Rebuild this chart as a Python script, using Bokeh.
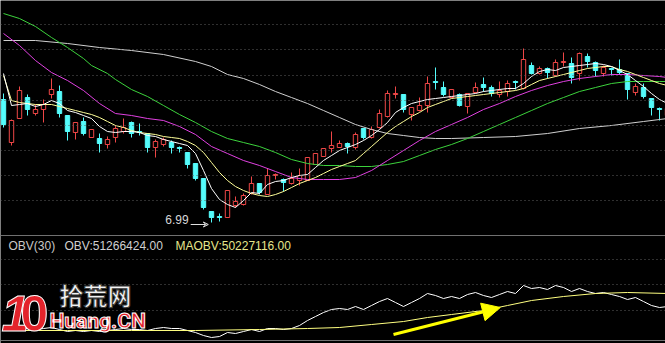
from bokeh.plotting import figure
from bokeh.models import ColumnDataSource, Range1d, Span, Label, Arrow, VeeHead, NormalHead
from bokeh.embed import file_html
from bokeh.resources import INLINE

# ---------------- price data (daily candles) ----------------
open_ = [8.22, 7.79, 8.03, 8.24, 8.08, 8.12, 8.27, 8.30, 8.06, 7.89,
         8.00, 7.84, 7.83, 7.77, 7.84, 7.90, 7.99, 7.90, 7.88, 7.74,
         7.77, 7.79, 7.74, 7.69, 7.58, 7.43, 7.10, 7.05, 7.04, 7.16,
         7.17, 7.28, 7.38, 7.27, 7.46, 7.42, 7.38, 7.41, 7.41, 7.57,
         7.65, 7.73, 7.74, 7.78, 7.74, 7.93, 7.84, 7.94, 8.05, 8.27,
         8.27, 8.07, 8.11, 8.16, 8.40, 8.34, 8.24, 8.27, 8.15, 8.29,
         8.37, 8.34, 8.27, 8.30, 8.40, 8.33, 8.56, 8.48, 8.53, 8.46,
         8.59, 8.58, 8.48, 8.65, 8.59, 8.48, 8.53, 8.52, 8.48, 8.29,
         8.34, 8.23, 8.13, 8.06]
close = [7.97, 8.01, 8.31, 8.12, 8.12, 8.17, 8.32, 8.08, 7.90, 7.99,
         7.88, 7.92, 7.78, 7.82, 7.93, 7.94, 7.88, 7.89, 7.74, 7.80,
         7.82, 7.74, 7.73, 7.57, 7.43, 7.14, 7.04, 7.04, 7.31, 7.20,
         7.26, 7.38, 7.29, 7.46, 7.47, 7.39, 7.43, 7.46, 7.64, 7.68,
         7.73, 7.76, 7.78, 7.75, 7.87, 7.84, 7.92, 8.08, 8.28, 8.28,
         8.12, 8.14, 8.16, 8.38, 8.39, 8.27, 8.32, 8.16, 8.28, 8.34,
         8.34, 8.28, 8.31, 8.38, 8.39, 8.62, 8.48, 8.53, 8.49, 8.59,
         8.60, 8.44, 8.68, 8.60, 8.51, 8.54, 8.52, 8.49, 8.32, 8.35,
         8.25, 8.14, 8.12, 8.13]
high = [8.28, 8.02, 8.35, 8.27, 8.17, 8.22, 8.43, 8.36, 8.06, 7.99,
        8.04, 7.92, 7.88, 7.85, 7.96, 8.03, 8.00, 7.98, 7.88, 7.82,
        7.84, 7.81, 7.75, 7.69, 7.58, 7.43, 7.10, 7.08, 7.31, 7.25,
        7.28, 7.45, 7.38, 7.53, 7.48, 7.43, 7.49, 7.53, 7.64, 7.68,
        7.73, 7.90, 7.81, 7.79, 7.89, 7.93, 7.95, 8.12, 8.31, 8.35,
        8.27, 8.14, 8.24, 8.45, 8.54, 8.40, 8.32, 8.28, 8.28, 8.39,
        8.44, 8.36, 8.40, 8.41, 8.41, 8.73, 8.59, 8.55, 8.54, 8.62,
        8.69, 8.64, 8.69, 8.68, 8.60, 8.56, 8.54, 8.62, 8.48, 8.38,
        8.38, 8.23, 8.14, 8.16]
low = [7.94, 7.76, 8.03, 8.06, 8.06, 7.99, 8.23, 8.04, 7.81, 7.82,
       7.86, 7.84, 7.69, 7.73, 7.79, 7.88, 7.84, 7.86, 7.69, 7.64,
       7.75, 7.68, 7.69, 7.53, 7.41, 7.12, 6.99, 7.00, 7.04, 7.14,
       7.16, 7.27, 7.27, 7.27, 7.42, 7.30, 7.37, 7.36, 7.41, 7.57,
       7.65, 7.69, 7.74, 7.68, 7.72, 7.82, 7.83, 7.93, 8.04, 8.23,
       8.09, 8.01, 8.10, 8.09, 8.32, 8.25, 8.24, 8.15, 8.08, 8.28,
       8.30, 8.25, 8.24, 8.25, 8.32, 8.32, 8.47, 8.47, 8.43, 8.45,
       8.55, 8.38, 8.41, 8.54, 8.45, 8.45, 8.46, 8.47, 8.22, 8.26,
       8.23, 8.06, 8.01, 8.03]

# ---------------- moving averages ----------------
ma5 = [8.48, 8.16, 8.17, 8.18, 8.15, 8.17, 8.21, 8.18, 8.11, 8.09,
       8.06, 8.03, 7.95, 7.90, 7.89, 7.90, 7.90, 7.89, 7.86, 7.85,
       7.82, 7.80, 7.78, 7.76, 7.68, 7.51, 7.33, 7.22, 7.17, 7.14,
       7.21, 7.29, 7.28, 7.37, 7.40, 7.41, 7.44, 7.46, 7.47, 7.54,
       7.61, 7.66, 7.71, 7.74, 7.77, 7.81, 7.86, 7.92, 7.99, 8.09,
       8.14, 8.18, 8.20, 8.22, 8.23, 8.24, 8.25, 8.26, 8.27, 8.28,
       8.30, 8.31, 8.32, 8.33, 8.33, 8.38, 8.45, 8.50, 8.52, 8.51,
       8.54, 8.55, 8.56, 8.57, 8.58, 8.57, 8.55, 8.51, 8.47, 8.41,
       8.35, 8.28, 8.22, 8.18]
ma10 = [8.46, 8.21, 8.19, 8.18, 8.17, 8.17, 8.17, 8.15, 8.13, 8.11,
        8.09, 8.07, 8.04, 8.00, 7.96, 7.94, 7.91, 7.89, 7.88, 7.87,
        7.85, 7.84, 7.83, 7.80, 7.76, 7.69, 7.59, 7.49, 7.41, 7.35,
        7.31, 7.28, 7.26, 7.25, 7.27, 7.30, 7.34, 7.38, 7.41, 7.44,
        7.48, 7.52, 7.55, 7.58, 7.61, 7.68, 7.75, 7.82, 7.89, 7.95,
        8.00, 8.05, 8.09, 8.14, 8.17, 8.20, 8.23, 8.24, 8.25, 8.26,
        8.27, 8.28, 8.29, 8.30, 8.31, 8.33, 8.37, 8.41, 8.43, 8.45,
        8.47, 8.49, 8.51, 8.53, 8.54, 8.55, 8.55, 8.52, 8.50, 8.47,
        8.44, 8.41, 8.38, 8.36]
ma20_x = [0, 2, 4, 6, 8, 10, 12, 14, 16, 18, 20, 22, 24, 26, 28, 30, 32, 34, 36, 38,
          40, 42, 44, 46, 48, 50, 52, 54, 56, 58, 60, 62, 64, 66, 68, 70, 72, 74, 76, 78,
          80, 82, 83]
ma20 = [8.88, 8.76, 8.61, 8.49, 8.41, 8.31, 8.18, 8.08, 8.06, 8.03, 8.01, 7.95, 7.87, 7.75,
        7.68, 7.61, 7.56, 7.50, 7.44, 7.42, 7.42, 7.42, 7.44, 7.51, 7.61, 7.71, 7.81, 7.90,
        7.97, 8.04, 8.12, 8.18, 8.25, 8.31, 8.36, 8.40, 8.43, 8.45, 8.47, 8.47, 8.46, 8.45, 8.44]
ma30_x = [0, 2, 4, 6, 8, 10, 11, 13, 14, 16, 18, 20, 22, 24, 26, 28, 30, 32, 34, 36, 38,
          40, 42, 44, 46, 48, 50, 52, 54, 56, 58, 60, 62, 64, 66, 68, 70, 72, 74, 76, 78,
          80, 82, 83]
ma30 = [9.08, 9.03, 8.95, 8.84, 8.74, 8.63, 8.56, 8.48, 8.42, 8.32, 8.25, 8.16, 8.07, 7.99,
        7.90, 7.83, 7.79, 7.75, 7.69, 7.62, 7.58, 7.56, 7.56, 7.55, 7.55, 7.57, 7.60, 7.66,
        7.72, 7.77, 7.83, 7.90, 7.97, 8.04, 8.11, 8.18, 8.24, 8.30, 8.34, 8.38, 8.40, 8.40,
        8.40, 8.40]
ma60_x = [0, 4, 8, 12, 16, 20, 24, 26, 28, 30, 32, 34, 36, 38, 40, 42, 44, 46, 48, 50,
          52, 54, 56, 60, 64, 68, 72, 76, 80, 83]
ma60 = [8.81, 8.81, 8.78, 8.74, 8.71, 8.67, 8.60, 8.55, 8.47, 8.43, 8.37, 8.30, 8.24, 8.18,
        8.11, 8.04, 7.97, 7.92, 7.88, 7.86, 7.84, 7.83, 7.83, 7.84, 7.85, 7.88, 7.93, 7.96,
        8.00, 8.03]

# ---------------- OBV indicator (millions) ----------------
obv = [31, 32, 33, 32, 31, 32, 33, 31, 29, 30,
       29, 30, 29, 30, 31, 32, 31, 31, 30, 32,
       33, 32, 32, 30, 28, 25, 23, 24, 28, 27,
       29, 31, 29, 32, 32, 31, 32, 35, 40, 44,
       48, 51, 52, 51, 54, 51, 55, 59, 62, 58,
       54, 58, 62, 67, 65, 62, 64, 62, 66, 68,
       65, 63, 66, 69, 67, 75, 72, 73, 71, 75,
       73, 69, 72, 69, 67, 68, 66, 64, 61, 63,
       59, 55, 53, 54]
maobv_x = [0, 8, 16, 24, 32, 38, 42, 46, 50, 53, 56, 60, 63, 66, 70, 74, 78, 83]
maobv = [30, 30, 30, 30, 31, 32, 33, 36, 39, 43, 46, 50, 55, 60, 64, 67, 68, 67]
obv_value = 51266424.00
maobv_value = 50227116.00
obv_period = 30

# tick / grid levels
price_grid = [8.97, 8.72, 8.46, 8.21, 7.96, 7.71, 7.46, 7.21]
obv_grid = [101, 76, 50]
panel_split = 6.86
obv_bottom = 20

RED = "#ee4646"
CYAN = "#54fcfc"
FONT = "Liberation Sans"

n = len(open_)
idx = list(range(n))
up = [c >= o for o, c in zip(open_, close)]
src = ColumnDataSource(dict(
    x=idx, high=high, low=low,
    top=[max(o, c) for o, c in zip(open_, close)],
    bottom=[min(o, c) for o, c in zip(open_, close)],
    lc=[RED if u else CYAN for u in up],
    fc=["#000000" if u else CYAN for u in up],
))

p = figure(width=665, height=343, output_backend="svg", toolbar_location=None,
           x_axis_location=None, y_axis_location=None, title=None, min_border=0,
           x_range=Range1d(-0.375, 82.75), y_range=Range1d(5.78, 9.21),
           background_fill_color="#000000", border_fill_color="#000000",
           outline_line_color=None)
p.extra_y_ranges = {"obv": Range1d(17, 360)}
p.xgrid.visible = False
p.ygrid.visible = False

for lv in price_grid:
    p.add_layout(Span(location=lv, dimension="width", line_color="#5e5e5e",
                      line_dash="1 3", line_width=1))
for lv in obv_grid:
    p.add_layout(Span(location=lv, dimension="width", line_color="#5e5e5e",
                      line_dash="1 3", line_width=1, y_range_name="obv"))
p.add_layout(Span(location=panel_split, dimension="width", line_color="#707070", line_width=1))
p.add_layout(Span(location=obv_bottom, dimension="width", line_color="#707070",
                  line_width=1, y_range_name="obv"))

# candles
p.segment(x0="x", y0="high", x1="x", y1="low", line_color="lc", line_width=1, source=src)
p.vbar(x="x", width=0.55, top="top", bottom="bottom", fill_color="fc",
       line_color="lc", line_width=1, source=src)

# moving averages
p.line(ma60_x, ma60, line_color="#cfcfcf", line_width=1)
p.line(ma30_x, ma30, line_color="#3cd23c", line_width=1)
p.line(ma20_x, ma20, line_color="#e040e0", line_width=1)
p.line(idx, ma10, line_color="#ffff99", line_width=1)
p.line(idx, ma5, line_color="#ffffff", line_width=1)

# lowest price marker
imin = min(range(n), key=lambda i: low[i])
lmin = low[imin]
p.add_layout(Arrow(x_start=imin - 2.6, y_start=lmin - 0.02, x_end=imin - 0.4, y_end=lmin - 0.02,
                   line_color="#e0e0e0", line_width=1,
                   end=VeeHead(size=5, line_color="#e0e0e0", line_width=1)))
p.add_layout(Label(x=imin - 2.85, y=lmin + 0.03, text=f"{lmin:.2f}", text_align="right",
                   text_baseline="middle", text_color="#d8d8d8", text_font=FONT,
                   text_font_size="12px"))

# OBV panel
p.line(idx, obv, line_color="#ffffff", line_width=1, y_range_name="obv")
p.line(maobv_x, maobv, line_color="#ffff80", line_width=1, y_range_name="obv")

p.add_layout(Arrow(x_start=48.75, y_start=26, x_end=62.1, y_end=53, y_range_name="obv",
                   line_color="#ffff00", line_width=3,
                   end=NormalHead(size=18, fill_color="#ffff00", line_color="#ffff00")))

for x, txt, col in [(8, f"OBV({obv_period})", "#c8c8c8"),
                    (64, f"OBV:{obv_value:.2f}", "#d0d0d0"),
                    (175, f"MAOBV:{maobv_value:.2f}", "#e6e68c")]:
    p.add_layout(Label(x=x, y=97.5, x_units="screen", y_units="screen", text=txt,
                       text_baseline="middle", text_color=col, text_font=FONT,
                       text_font_size="12px"))

# watermark logo
p.add_layout(Label(x=1, y=13, x_units="screen", y_units="screen", text="1",
                   text_font=FONT, text_font_size="50px", text_font_style="bold italic",
                   text_baseline="bottom",
                   text_color="#e3232b", text_outline_color="#ffffff"))
p.add_layout(Label(x=20, y=13, x_units="screen", y_units="screen", text="0",
                   text_font=FONT, text_font_size="50px", text_font_style="bold",
                   text_baseline="bottom",
                   text_color="#e3232b", text_outline_color="#ffffff"))
p.add_layout(Label(x=59, y=32, x_units="screen", y_units="screen", text="拾荒网",
                   text_font="Noto Sans CJK SC", text_font_size="24px", text_font_style="bold",
                   text_color="#f2f2f2", text_outline_color="#3a3a3a"))
p.add_layout(Label(x=49, y=11, x_units="screen", y_units="screen", text="Huang.CN",
                   text_font="Roboto", text_font_size="21px", text_font_style="bold",
                   text_color="#e3232b", text_outline_color="#ffffff"))

open("out.html", "w").write(file_html(p, INLINE))
